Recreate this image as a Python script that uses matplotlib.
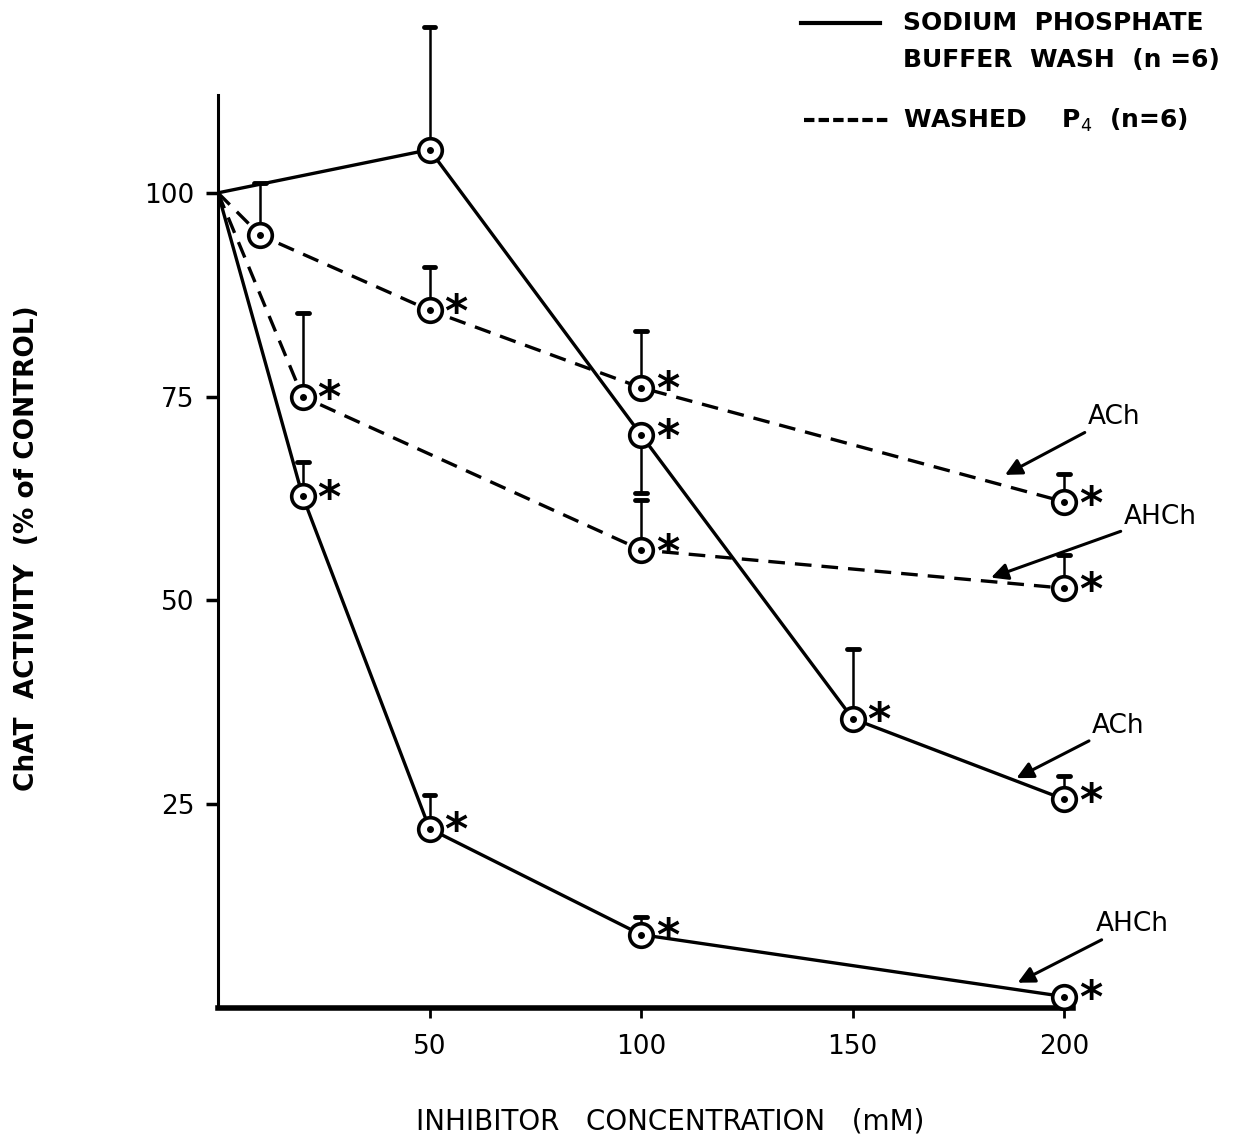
import numpy as np
import matplotlib.pyplot as plt
from matplotlib.lines import Line2D


# ==========================
# Data
# ==========================

# sodium phosphate buffer wash (solid)
buf_ach_x = [0, 50, 100, 150, 200]
buf_ach_y = [100, 105.3, 70.3, 35.5, 25.6]
buf_ach_up = [0, 15.1, 0, 8.5, 2.8]
buf_ach_dn = [0, 0, 7.1, 0, 0]
buf_ach_star = [False, False, True, True, True]

buf_ahch_x = [0, 20, 50, 100, 200]
buf_ahch_y = [100, 62.8, 22.0, 9.0, 1.4]
buf_ahch_up = [0, 4.2, 4.1, 2.2, 0]
buf_ahch_star = [False, True, True, True, True]

# washed P4 (dashed)
p4_ach_x = [0, 10, 50, 100, 200]
p4_ach_y = [100, 94.8, 85.6, 76.1, 62.1]
p4_ach_up = [0, 6.4, 5.3, 7.0, 3.4]
p4_ach_star = [False, False, True, True, True]

p4_ahch_x = [0, 20, 100, 200]
p4_ahch_y = [100, 75.0, 56.2, 51.5]
p4_ahch_up = [0, 10.2, 6.1, 4.1]
p4_ahch_star = [False, True, True, True]

x_ticks = [50, 100, 150, 200]
y_ticks = [25, 50, 75, 100]

plt.rcParams['font.family'] = ['DejaVu Sans']

fig = plt.figure(figsize=(12.57, 11.35), dpi=100)
ax = fig.add_axes([0.1734, 0.1119, 0.680, 0.869])


def draw_series(x, y, up, dn, stars, ls):
    ax.plot(x, y, color='black', lw=2.4, linestyle=ls, zorder=2,
            dashes=(5, 3) if ls == '--' else (None, None))
    for xi, yi, u, d, s in zip(x, y, up, dn, stars):
        if xi == 0:
            continue
        if u > 0:
            ax.plot([xi, xi], [yi, yi + u], color='black', lw=1.8, zorder=1)
            ax.plot([xi - 1.4, xi + 1.4], [yi + u, yi + u],
                    color='black', lw=3.5, solid_capstyle='round', zorder=1)
        if d > 0:
            ax.plot([xi, xi], [yi, yi - d], color='black', lw=1.8, zorder=1)
            ax.plot([xi - 1.4, xi + 1.4], [yi - d, yi - d],
                    color='black', lw=3.5, solid_capstyle='round', zorder=1)
        ax.plot(xi, yi, marker='o', ms=17, mfc='white', mec='black',
                mew=2.6, zorder=3, clip_on=False)
        ax.plot(xi, yi, marker='o', ms=4, color='black', zorder=4,
                clip_on=False)
        if s:
            ax.text(xi + 6.2, yi - 0.4, '*', fontsize=32, fontweight='bold',
                    ha='center', va='center', zorder=4)


draw_series(buf_ach_x, buf_ach_y, buf_ach_up, buf_ach_dn, buf_ach_star, '-')
draw_series(buf_ahch_x, buf_ahch_y, buf_ahch_up, [0] * 5, buf_ahch_star, '-')
draw_series(p4_ach_x, p4_ach_y, p4_ach_up, [0] * 5, p4_ach_star, '--')
draw_series(p4_ahch_x, p4_ahch_y, p4_ahch_up, [0] * 4, p4_ahch_star, '--')


# ==========================
# Arrow labels
# ==========================

arrow_kw = dict(arrowstyle='-|>', color='black', lw=2.2,
                mutation_scale=25, shrinkA=0, shrinkB=0)

ax.annotate('ACh', xy=(186, 65.4), xytext=(205.5, 72.5),
            fontsize=19, va='center', ha='left', arrowprops=arrow_kw,
            annotation_clip=False)
ax.annotate('AHCh', xy=(182.7, 52.8), xytext=(214, 60.2),
            fontsize=19, va='center', ha='left', arrowprops=arrow_kw,
            annotation_clip=False)
ax.annotate('ACh', xy=(188.7, 28.2), xytext=(206.5, 34.6),
            fontsize=19, va='center', ha='left', arrowprops=arrow_kw,
            annotation_clip=False)
ax.annotate('AHCh', xy=(189, 3.1), xytext=(207.5, 10.3),
            fontsize=19, va='center', ha='left', arrowprops=arrow_kw,
            annotation_clip=False)


# ==========================
# Axes
# ==========================

ax.set_xlim(0, 202)
ax.set_ylim(0, 121)
ax.spines['top'].set_visible(False)
ax.spines['right'].set_visible(False)
ax.spines['left'].set_bounds(0, 112)
ax.spines['left'].set_linewidth(2.2)
ax.spines['bottom'].set_linewidth(4)

ax.set_xticks(x_ticks)
ax.set_xticklabels([str(v) for v in x_ticks])
ax.set_yticks(y_ticks)
ax.set_yticklabels([str(v) for v in y_ticks])
ax.tick_params(axis='x', direction='out', length=7, width=2, pad=12,
               labelsize=19)
ax.tick_params(axis='y', direction='out', length=9, width=2.5, pad=8,
               labelsize=19)

ax.set_xlabel('INHIBITOR   CONCENTRATION   (mM)', fontsize=20)
ax.xaxis.set_label_coords(0.529, -0.101)
ax.set_ylabel('ChAT  ACTIVITY  (% of CONTROL)', fontsize=19,
              fontweight='bold')
ax.yaxis.set_label_coords(-0.208, 0.4665)


# ==========================
# Legend (drawn by hand)
# ==========================

fig.add_artist(Line2D([0.637, 0.700], [0.980, 0.980], color='black',
                      lw=3, transform=fig.transFigure))
fig.add_artist(Line2D([0.640, 0.708], [0.894, 0.894], color='black',
                      lw=3, linestyle='--', dashes=(2.5, 1),
                      transform=fig.transFigure))
fig.text(0.718, 0.980, 'SODIUM  PHOSPHATE', fontsize=18, fontweight='bold',
         va='center', ha='left')
fig.text(0.718, 0.947, 'BUFFER  WASH  (n =6)', fontsize=18,
         fontweight='bold', va='center', ha='left')
fig.text(0.718, 0.894, 'WASHED    P$_4$  (n=6)', fontsize=18,
         fontweight='bold', va='center', ha='left')

fig.savefig('out.png', dpi=100)
